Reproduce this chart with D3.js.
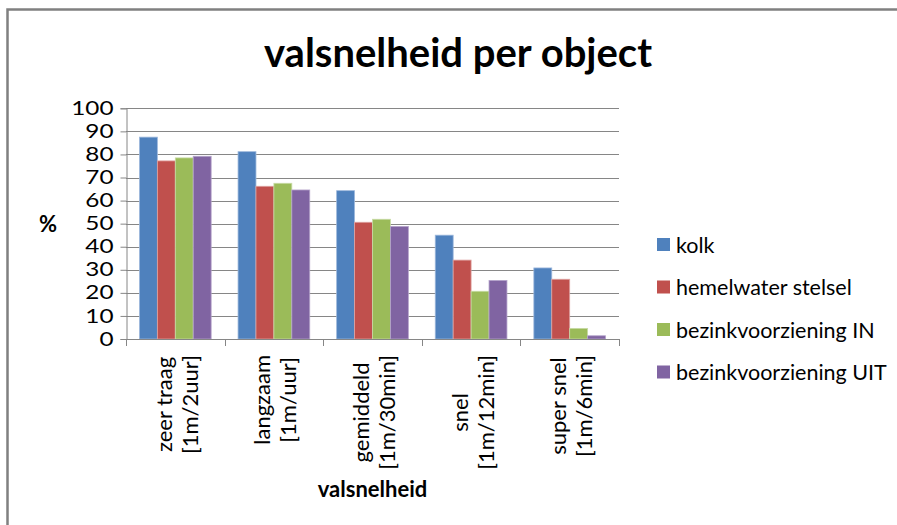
<!DOCTYPE html>
<html><head><meta charset="utf-8">
<script src="https://cdnjs.cloudflare.com/ajax/libs/d3/7.8.5/d3.min.js"></script>
<style>
html,body{margin:0;padding:0;background:#fff;}
svg{display:block;font-family:Lato, "Open Sans", sans-serif;}
</style></head>
<body>
<svg id="chart" width="897" height="525"></svg>
<script>
const categories = [["zeer traag","[1m/2uur]"],["langzaam","[1m/uur]"],["gemiddeld","[1m/30min]"],["snel","[1m/12min]"],["super snel","[1m/6min]"]];
const seriesNames = ["kolk","hemelwater stelsel","bezinkvoorziening IN","bezinkvoorziening UIT"];
const kolk = [87.5, 81.2, 64.3, 45.0, 30.8];
const hemelwater = [77.2, 66.2, 50.6, 34.2, 25.9];
const bezinkIN = [78.5, 67.5, 51.9, 20.7, 4.6];
const bezinkUIT = [79.2, 64.6, 48.8, 25.4, 1.4];
const seriesValues = [kolk, hemelwater, bezinkIN, bezinkUIT];
const colors = ["#4F81BD","#C0504D","#9BBB59","#8064A2"];
const strokes = ["#9db8dc","#dfa3a1","#c8dba6","#b5a4cb"];
const yTicks = [0,10,20,30,40,50,60,70,80,90,100];
const title = "valsnelheid per object";
const xTitle = "valsnelheid";
const yTitle = "%";

const svg = d3.select("#chart");
const plot = {left:126, right:619, top:108.3, bottom:339};

// chart border
svg.append("path").attr("d","M7.5,525 L7.5,9.5 L897,9.5").attr("fill","none").attr("stroke","#808080").attr("stroke-width",2.5);

const x = d3.scaleBand().domain(d3.range(categories.length)).range([plot.left, plot.right]).padding(0);
const xs = d3.scaleBand().domain(d3.range(seriesNames.length)).range([0, x.bandwidth()]).paddingInner(0).paddingOuter(0.75);
const y = d3.scaleLinear().domain([0,100]).range([plot.bottom, plot.top]);

// gridlines
svg.append("g").selectAll("line").data(yTicks.filter(d=>d>0)).join("line")
  .attr("x1", plot.left).attr("x2", plot.right)
  .attr("y1", d=>Math.round(y(d))+0.5).attr("y2", d=>Math.round(y(d))+0.5)
  .attr("stroke","#868686").attr("stroke-width",1);

// y axis
const yAxis = svg.append("g").attr("transform",`translate(${plot.left+0.5},0)`)
  .call(d3.axisLeft(y).tickValues(yTicks).tickSize(6).tickPadding(7).tickFormat(d3.format("d")));
yAxis.select(".domain").attr("stroke","#868686");
yAxis.selectAll(".tick line").attr("stroke","#868686");
yAxis.selectAll(".tick text").attr("font-size",19).attr("fill","#000").attr("font-family","Lato")
  .attr("x",0).attr("transform","translate(-13,0) scale(1.28,1)");

// bars
seriesValues.forEach((vals, si) => {
  svg.append("g").selectAll("rect").data(vals).join("rect")
    .attr("x",(d,i)=>x(i)+xs(si))
    .attr("width",xs.bandwidth())
    .attr("y",d=>y(d))
    .attr("height",d=>y(0)-y(d))
    .attr("fill",colors[si])
    .attr("stroke",strokes[si]).attr("stroke-width",0.8);
});

// x axis
const xAxisG = svg.append("g");
xAxisG.append("line").attr("x1",plot.left).attr("x2",plot.right).attr("y1",plot.bottom+0.5).attr("y2",plot.bottom+0.5).attr("stroke","#868686");
const bounds = d3.range(categories.length+1).map(i=> i<categories.length ? x(i) : plot.right);
xAxisG.selectAll("line.t").data(bounds).join("line").attr("class","t")
  .attr("x1",d=>Math.round(d)+0.5).attr("x2",d=>Math.round(d)+0.5)
  .attr("y1",plot.bottom).attr("y2",plot.bottom+7).attr("stroke","#868686");

// category labels (rotated)
categories.forEach((lines, i) => {
  const cx = x(i) + x.bandwidth()/2 + 1;
  const g = svg.append("g").attr("transform",`translate(${cx},355) rotate(-90)`);
  const texts = lines.map((t,li)=> g.append("text").text(t)
      .attr("font-size",22).attr("fill","#000")
      .attr("dominant-baseline","central")
      .attr("text-anchor","middle")
      .attr("y", (li - (lines.length-1)/2)*26));
  const maxLen = d3.max(texts, t=>t.node().getComputedTextLength());
  texts.forEach(t=>t.attr("x", -maxLen/2));
});

// titles
svg.append("text").text(title).attr("x",458).attr("y",67).attr("text-anchor","middle")
  .attr("font-size",40).attr("font-weight","bold").attr("fill","#000");
svg.append("text").text(xTitle).attr("x",(plot.left+plot.right)/2).attr("y",497).attr("text-anchor","middle")
  .attr("font-size",22).attr("font-weight","bold").attr("fill","#000");
svg.append("text").text(yTitle).attr("x",48).attr("y",223).attr("text-anchor","middle").attr("dominant-baseline","central")
  .attr("font-size",22).attr("font-weight","bold").attr("fill","#000");

// legend
const legend = svg.append("g").attr("transform","translate(657,244.5)");
const lg = legend.selectAll("g").data(seriesNames).join("g").attr("transform",(d,i)=>`translate(0,${i*42.5})`);
lg.append("rect").attr("x",0).attr("y",-6.5).attr("width",13).attr("height",13).attr("fill",(d,i)=>colors[i]);
lg.append("text").text(d=>d).attr("x",19).attr("y",0).attr("dominant-baseline","central")
  .attr("font-size",21.5).attr("fill","#000");
</script>
</body></html>
